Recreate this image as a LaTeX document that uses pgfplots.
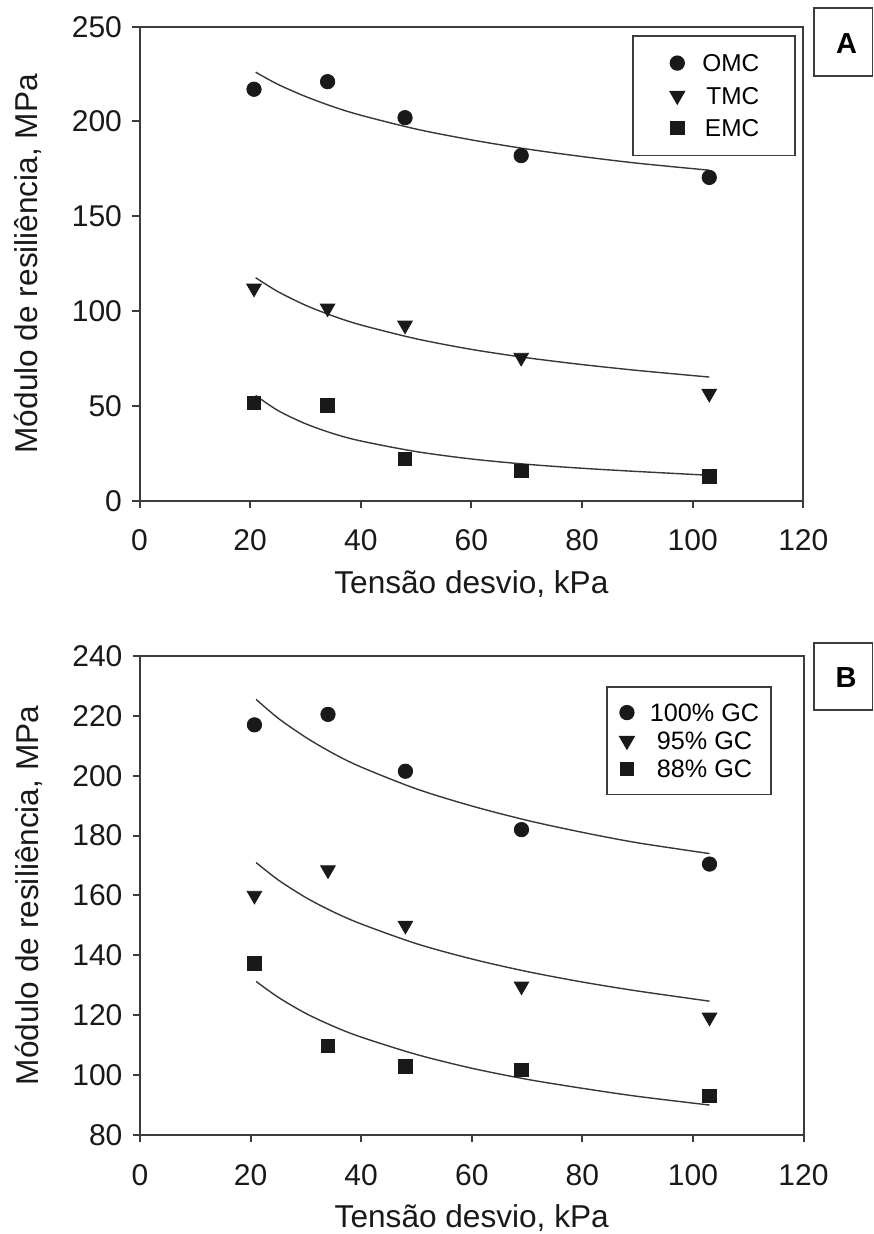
\documentclass[border=0pt]{standalone}
\usepackage{pgfplots}
\pgfplotsset{compat=1.18}
\usepackage{fontspec}
\setmainfont{Liberation Sans}
\definecolor{axcol}{RGB}{60,60,60}
\definecolor{mk}{RGB}{25,25,25}
\definecolor{fitcol}{RGB}{55,55,55}
\pgfplotsset{
 base/.style={
  scale only axis, width=331.9pt,
  xmin=0, xmax=120, xtick={0,20,...,120},
  tick align=outside, tick pos=left, major tick length=3.5pt,
  axis line style={axcol, line width=1pt},
  major tick style={axcol, line width=1pt},
  tick label style={font=\fontsize{15}{18}\selectfont, text=black!90},
  /pgf/number format/assume math mode=true,
  xticklabel style={yshift=-7.5pt},
  yticklabel style={xshift=-1.75pt},
  xlabel={Tensão desvio, kPa}, ylabel={Módulo de resiliência, MPa},
  every axis x label/.style={at={([yshift=-41.5pt]axis description cs:0.5,0)}, anchor=center, font=\fontsize{15.8}{18}\selectfont, text=black!90},
  every axis y label/.style={at={([xshift=-55.75pt]axis description cs:0,0.5)}, anchor=center, rotate=90, font=\fontsize{15.8}{18}\selectfont, text=black!90},
  legend image code/.code={\path[draw=none, fill=none] (-4pt,-4pt) rectangle (4pt,4pt); \draw[##1, scale=0.95] plot coordinates {(0pt,0pt)};},
 },
 omc/.style={only marks, mark=*, mark size=3.6pt, color=mk, mark options={fill=mk, draw=mk}},
 tmc/.style={only marks, mark=triangle*, mark size=4.2pt, color=mk, mark options={rotate=180, fill=mk, draw=mk}},
 emc/.style={only marks, mark=square*, mark size=3.4pt, color=mk, mark options={fill=mk, draw=mk}},
 fit/.style={no marks, smooth, color=fitcol, line width=0.7pt, forget plot},
}
\begin{document}
\begin{tikzpicture}[x=0.5pt, y=0.5pt]
\useasboundingbox (0,0) rectangle (873,1234);
% ---------------- Panel A ----------------
\begin{axis}[base, at={(69.75pt,366.65pt)}, anchor=south west, height=237pt,
  ymin=0, ymax=250, ytick={0,50,...,250},
  legend style={at={([xshift=-3.65pt,yshift=-4.15pt]axis description cs:1,1)}, anchor=north east,
    draw=axcol, line width=0.8pt, font=\fontsize{12.2}{14}\selectfont,
    inner xsep=18pt, inner ysep=9.4pt, row sep=7.75pt, column sep=8.5pt,
    nodes={inner sep=0pt, text depth=0pt}},
  legend cell align=right]
\addplot[omc] coordinates {(20.7,217) (34,221) (48,202) (69,182) (103,170.5)};
\addlegendentry{OMC}
\addplot[tmc] coordinates {(20.7,112) (34,101.5) (48,92.5) (69,75.5) (103,56.5)};
\addlegendentry{TMC}
\addplot[emc] coordinates {(20.7,51.5) (34,50.3) (48,22) (69,15.8) (103,12.8)};
\addlegendentry{EMC}
\addplot[fit] coordinates {(21,226) (25,219.6) (30,213.2) (35,207.8) (40,203.3) (50,196.0) (60,190.3) (70,185.5) (80,181.5) (90,178.0) (103,174.3)};
\addplot[fit] coordinates {(21,117.6) (25,110.3) (30,103.1) (35,97.4) (40,92.7) (50,85.4) (60,79.8) (70,75.4) (80,71.8) (90,68.7) (103,65.2)};
\addplot[fit] coordinates {(21,55.5) (25,47.6) (30,40.6) (35,35.4) (40,31.5) (50,25.9) (60,22.0) (70,19.2) (80,17.1) (90,15.4) (103,13.4)};
\end{axis}
% ---------------- Panel B ----------------
\begin{axis}[base, at={(70pt,49.5pt)}, anchor=south west, width=331.75pt, height=239.5pt,
  ymin=80, ymax=240, ytick={80,100,...,240},
  legend style={at={([xshift=-15.75pt,yshift=-15pt]axis description cs:1,1)}, anchor=north east,
    draw=axcol, line width=0.8pt, font=\fontsize{12.6}{14}\selectfont,
    inner xsep=6pt, inner ysep=8.5pt, row sep=5.25pt, column sep=7.5pt,
    nodes={inner sep=0pt, text depth=0pt}},
  legend cell align=center]
\addplot[omc] coordinates {(20.7,217) (34,220.5) (48,201.5) (69,182) (103,170.5)};
\addlegendentry{100\% GC}
\addplot[tmc] coordinates {(20.7,160) (34,168.5) (48,150) (69,129.7) (103,119.3)};
\addlegendentry{95\% GC}
\addplot[emc] coordinates {(20.7,137.3) (34,109.7) (48,103) (69,101.7) (103,93)};
\addlegendentry{88\% GC}
\addplot[fit] coordinates {(21,225.5) (25,219.2) (30,212.8) (35,207.4) (40,202.9) (50,195.6) (60,189.9) (70,185.1) (80,181.1) (90,177.6) (103,174)};
\addplot[fit] coordinates {(21,171) (25,165.2) (30,159.3) (35,154.5) (40,150.5) (50,143.9) (60,138.8) (70,134.6) (80,131.1) (90,128.1) (103,124.7)};
\addplot[fit] coordinates {(21,131.3) (25,126.0) (30,120.6) (35,116.3) (40,112.7) (50,106.9) (60,102.3) (70,98.6) (80,95.6) (90,92.9) (103,90.0)};
\end{axis}
% ---------------- Panel tags ----------------
\draw[line width=0.6pt, color=axcol] (814,1158) rectangle (872.5,1226);
\node[font=\bfseries\fontsize{14.5}{17}\selectfont] at (846.5,1190.5) {A};
\draw[line width=0.6pt, color=axcol] (814,524) rectangle (872.5,591);
\node[font=\bfseries\fontsize{14.5}{17}\selectfont] at (846,556) {B};
\end{tikzpicture}
\end{document}
